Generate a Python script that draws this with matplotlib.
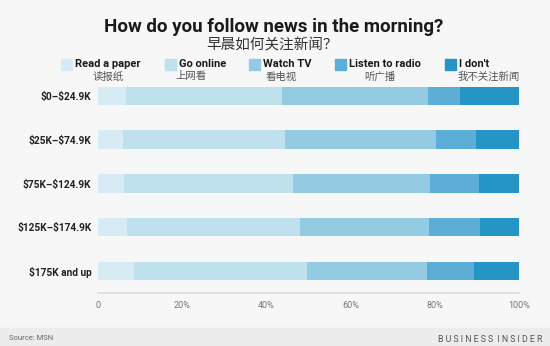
import matplotlib
matplotlib.use("Agg")
import matplotlib.pyplot as plt
from matplotlib.patches import Rectangle

plt.rcParams["text.parse_math"] = False

categories = ["$0–$24.9K", "$25K–$74.9K", "$75K–$124.9K", "$125K–$174.9K", "$175K and up"]
series_en = ["Read a paper", "Go online", "Watch TV", "Listen to radio", "I don't"]
series_zh = ["读报纸", "上网看", "看电视", "听广播", "我不关注新闻"]
read_paper = [6.5, 5.8, 6.2, 6.8, 8.5]
go_online = [37.2, 38.5, 40.0, 41.2, 41.2]
watch_tv = [34.6, 35.9, 32.6, 30.5, 28.4]
radio = [7.7, 9.5, 11.6, 12.3, 11.2]
dont = [14.0, 10.3, 9.6, 9.2, 10.7]
xticks = [0, 20, 40, 60, 80, 100]
xtick_labels = ["0", "20%", "40%", "60%", "80%", "100%"]

colors = ["#d6ebf4", "#bfe1ee", "#93cce2", "#5daed6", "#2595c6"]
bg = "#f7f7f7"
W, H = 550, 346

fig = plt.figure(figsize=(5.5, 3.46), dpi=100, facecolor=bg)
ax = fig.add_axes([98.2 / W, 1 - 293 / H, (519 - 98.2) / W, (293 - 74) / H])
ax.set_facecolor(bg)

data = [read_paper, go_online, watch_tv, radio, dont]
ypos = list(range(len(categories)))
left = [0.0] * len(categories)
for vals, c in zip(data, colors):
    ax.barh(ypos, vals, left=left, height=0.42, color=c, edgecolor="none")
    left = [l + v for l, v in zip(left, vals)]

ax.set_xlim(0, 100)
ax.set_ylim(4.503, -0.5)
ax.set_yticks(ypos)
ax.set_yticklabels(categories, fontsize=7.3, fontweight="bold", family="Roboto", color="#222222")
ax.set_xticks(xticks)
ax.set_xticklabels(xtick_labels, fontsize=6.5, family="Roboto", color="#777777")
ax.tick_params(axis="both", length=0)
ax.tick_params(axis="x", pad=6)
ax.tick_params(axis="y", pad=5)
for s in ["top", "right", "left"]:
    ax.spines[s].set_visible(False)
ax.spines["bottom"].set_color("#dddddd")
ax.spines["bottom"].set_linewidth(1.2)

# Title
fig.text(274 / W, 1 - 27 / H, "How do you follow news in the morning?", ha="center", va="center",
         fontsize=13.5, fontweight="bold", family="Roboto", color="#1a1a1a")
fig.text(272 / W, 1 - 45.5 / H, "早晨如何关注新闻？", ha="center", va="center",
         fontsize=10.5, family=["Noto Sans CJK SC", "DejaVu Sans"], color="#333333")

# Legend
sq_x = [61, 165, 249, 335, 445]
zh_cx = [108, 191, 281, 380, 489]
for i in range(5):
    fig.patches.append(Rectangle((sq_x[i] / W, 1 - 69.5 / H), 10.5 / W, 10.5 / H,
                                 transform=fig.transFigure, color=colors[i], figure=fig))
    fig.text((sq_x[i] + 14) / W, 1 - 64 / H, series_en[i], ha="left", va="center",
             fontsize=8, fontweight="bold", family="Roboto", color="#1a1a1a")
    fig.text(zh_cx[i] / W, 1 - 76.5 / H, series_zh[i], ha="center", va="center",
             fontsize=7.5, family=["Noto Sans CJK SC", "DejaVu Sans"], color="#555555")

# Footer
fig.patches.append(Rectangle((0, 0), 1, 18 / H, transform=fig.transFigure, color="#ececec", figure=fig))
fig.text(9 / W, 1 - 338.5 / H, "Source: MSN", ha="left", va="center", fontsize=5.5,
         family="Roboto", color="#666666")
fig.text(542 / W, 1 - 340 / H, "B U S I N E S S  I N S I D E R", ha="right", va="center",
         fontsize=6.3, family="Roboto", color="#555555")

fig.savefig("out.png", dpi=100, facecolor=bg)
